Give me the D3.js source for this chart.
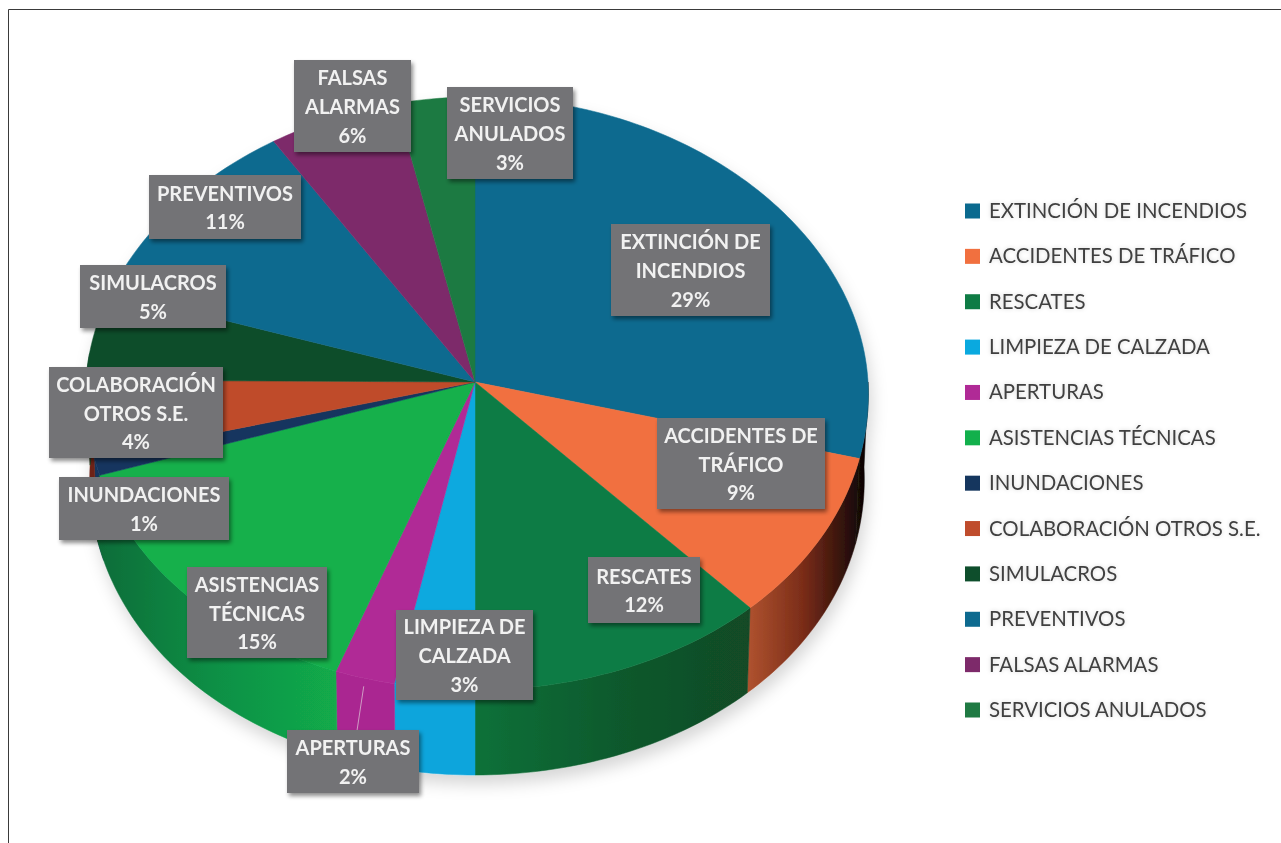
<!DOCTYPE html>
<html lang="es"><head><meta charset="utf-8">
<style>html,body{margin:0;padding:0;background:#fff}svg{display:block}</style>
<script src="https://cdn.jsdelivr.net/npm/d3@7"></script></head>
<body><svg id="c" width="1281" height="843"></svg>
<script>
const categories = ["EXTINCIÓN DE INCENDIOS","ACCIDENTES DE TRÁFICO","RESCATES","LIMPIEZA DE CALZADA","APERTURAS","ASISTENCIAS TÉCNICAS","INUNDACIONES","COLABORACIÓN OTROS S.E.","SIMULACROS","PREVENTIVOS","FALSAS ALARMAS","SERVICIOS ANULADOS"];
const shares = [29.0,9.1,11.9,3.2,2.4,14.5,1.0,4.0,5.0,10.9,5.6,3.4];
const labelLines = [["EXTINCIÓN DE","INCENDIOS"],["ACCIDENTES DE","TRÁFICO"],["RESCATES"],["LIMPIEZA DE","CALZADA"],["APERTURAS"],["ASISTENCIAS","TÉCNICAS"],["INUNDACIONES"],["COLABORACIÓN","OTROS S.E."],["SIMULACROS"],["PREVENTIVOS"],["FALSAS","ALARMAS"],["SERVICIOS","ANULADOS"]];
const topColors = ["#0b6a8f","#f1703f","#0f7c45","#0aa9df","#b02a96","#12b04c","#15365e","#bf4c2c","#0e4e2c","#0d6a8f","#7d2a6a","#1f7a43"];
// wall shading, listed from left to right on screen
const wallColors = [["#1a0a08","#000000"],["#b0532f","#7a2c18","#160806"],["#0e7139","#0f5a2d","#124a26"],["#0aa5dc","#0aa5dc"],["#aa2891","#aa2891"],["#0d6a38","#0f8f45","#12ab4b"],["#15365e","#15365e"],["#6e2114","#6e2114"],["#0e4e2c","#0e4e2c"],["#0d6a8f","#0d6a8f"],["#7d2a6a","#7d2a6a"],["#1f7a43","#1f7a43"]];
// label box corners [x0,y0,x1,y1]
const labelBoxes = [[611,224,770,316],[657,418,825,509],[588,557,700,623],[396,610,533,700],[287,730,419,793],[187,567,327,658],[59,477,229,540],[49,367,223,458],[80,265,226,328],[149,175,301,239],[294,60,411,152],[447,87,573,179]];

const svg = d3.select("#c");
const defs = svg.append("defs");
const soft = defs.append("filter").attr("id","soft").attr("x","-10%").attr("y","-10%").attr("width","120%").attr("height","125%");
soft.append("feDropShadow").attr("dx",3).attr("dy",9).attr("stdDeviation",8).attr("flood-color","#000").attr("flood-opacity",.16);
const box = defs.append("filter").attr("id","box").attr("x","-10%").attr("y","-10%").attr("width","125%").attr("height","125%");
box.append("feDropShadow").attr("dx",2).attr("dy",3).attr("stdDeviation",2).attr("flood-color","#000").attr("flood-opacity",.45);
const glow = defs.append("filter").attr("id","glow").attr("x","-5%").attr("y","-30%").attr("width","110%").attr("height","160%");
glow.append("feGaussianBlur").attr("in","SourceAlpha").attr("stdDeviation",2.2).attr("result","b");
glow.append("feFlood").attr("flood-color","#000").attr("flood-opacity",.16);
glow.append("feComposite").attr("in2","b").attr("operator","in").attr("result","s");
glow.append("feGaussianBlur").attr("in","SourceGraphic").attr("stdDeviation",.35).attr("result","t");
const gm = glow.append("feMerge");
gm.append("feMergeNode").attr("in","s");
gm.append("feMergeNode").attr("in","t");
const tx = defs.append("filter").attr("id","tx"); tx.append("feGaussianBlur").attr("stdDeviation",.35);

// frame
svg.append("path").attr("d",d3.line()([[8.5,843],[8.5,9.5],[1281,9.5]])).attr("fill","none").attr("stroke","#3a3a3a").attr("stroke-width",1);

// pie geometry
const arcs = d3.pie().sort(null).value(d=>d)(shares);
const persp = 0.04;
const xTop = d3.scaleLinear().domain([-1,0,1]).range([86,475,868]);
const yTop = d3.scaleLinear().domain([-1,0,1]).range([690,382,97]);
const xBot = d3.scaleLinear().domain([-1,0,1]).range([90,475,864]);
const yBot = d3.scaleLinear().domain([-1,0,1]).range([775,467,182]);
const apex = [xTop(0),yTop(0)];
const project = (a,xs,ys)=>{const s=Math.sin(a),c=Math.cos(a);return [xs(s*(1-persp*c)),ys(c)];};
const samples = (a0,a1)=>{const n=Math.max(2,Math.ceil((a1-a0)/0.02));return d3.range(n+1).map(i=>a0+(a1-a0)*i/n);};
const line = d3.line();
const pieG = svg.append("g").attr("filter","url(#soft)");

// side walls, only the part facing the viewer; the big green wall is painted last and wraps a little further round at its foot
const loA = Math.PI/2, hiA = Math.PI*1.5+0.1, wrapIndex = 5, wrap = 0.22;
const walls = arcs.map((d,i)=>({i,a0:Math.max(d.startAngle,loA),a1:Math.min(d.endAngle,hiA)})).filter(w=>w.a1>w.a0)
  .sort((p,q)=>(p.i===wrapIndex)-(q.i===wrapIndex));
walls.forEach(w=>{
  const up = samples(w.a0,w.a1).map(a=>project(a,xTop,yTop));
  const dn = samples(w.a0,w.a1+(w.i===wrapIndex?wrap:0)).map(a=>project(a,xBot,yBot)).reverse();
  const xs = up.concat(dn).map(p=>p[0]);
  const stops = wallColors[w.i];
  const g = defs.append("linearGradient").attr("id","w"+w.i).attr("gradientUnits","userSpaceOnUse")
    .attr("x1",d3.min(xs)).attr("x2",d3.max(xs)).attr("y1",0).attr("y2",0);
  stops.forEach((c,k)=>g.append("stop").attr("offset",k/(stops.length-1)).attr("stop-color",c));
  pieG.append("path").attr("d",line(up.concat(dn))+"Z").attr("fill",`url(#w${w.i})`).attr("stroke",`url(#w${w.i})`).attr("stroke-width",.5);
});
// top face
pieG.selectAll("path.slice").data(arcs).join("path").attr("class","slice")
  .attr("d",d=>line([apex].concat(samples(d.startAngle,d.endAngle).map(a=>project(a,xTop,yTop))))+"Z")
  .attr("fill",(d,i)=>topColors[i]).attr("stroke",(d,i)=>topColors[i]).attr("stroke-width",.5);

// faint leader of the APERTURAS label
const ap = arcs[4], apMid=(ap.startAngle+ap.endAngle)/2;
const leadA = project(apMid,xTop,yTop), leadB = project(apMid,xBot,yBot);
svg.append("path").attr("d",line([[leadA[0]-1,leadA[1]+8],[leadB[0]-12,leadB[1]-12]])).attr("stroke","#cf9cc4").attr("stroke-width",1).attr("fill","none");

// labels
const labels = svg.append("g").selectAll("g").data(arcs).join("g");
labels.append("rect").attr("x",(d,i)=>labelBoxes[i][0]).attr("y",(d,i)=>labelBoxes[i][1])
  .attr("width",(d,i)=>labelBoxes[i][2]-labelBoxes[i][0]).attr("height",(d,i)=>labelBoxes[i][3]-labelBoxes[i][1])
  .attr("fill","#737376").attr("filter","url(#box)");
labels.each(function(d,i){
  const b=labelBoxes[i], rows=labelLines[i].concat(Math.round(d.value)+"%");
  const lh=28.8, cx=(b[0]+b[2])/2, cy=(b[1]+b[3])/2;
  d3.select(this).append("g").attr("filter","url(#tx)").selectAll("text").data(rows).join("text")
    .attr("x",cx).attr("y",(r,k)=>cy+(k-(rows.length-1)/2)*lh+8)
    .attr("text-anchor","middle").attr("font-family","Lato").attr("font-weight",700).attr("font-size",20)
    .attr("fill","#f1f1f1").text(r=>r);
});

// legend
const legendY = d3.scalePoint().domain(categories).range([211,710]);
const legend = svg.append("g").selectAll("g").data(categories).join("g").attr("transform",c=>`translate(0,${legendY(c)})`);
legend.append("rect").attr("x",965).attr("y",-7.5).attr("width",15).attr("height",15).attr("fill",(c,i)=>topColors[i]);
legend.append("text").attr("x",989).attr("y",7).attr("font-family","Lato").attr("font-size",20.4).attr("fill","#404040").attr("filter","url(#glow)").text(c=>c);
</script></body></html>
